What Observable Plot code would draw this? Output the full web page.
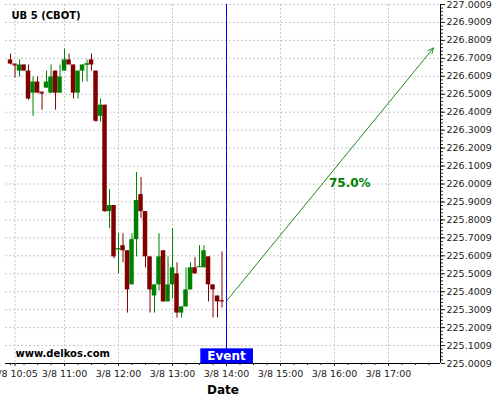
<!DOCTYPE html>
<html><head><meta charset="utf-8">
<script src="https://cdn.jsdelivr.net/npm/d3@7"></script>
<script src="https://cdn.jsdelivr.net/npm/@observablehq/plot@0.6"></script>
<style>html,body{margin:0;padding:0;background:#fff;overflow:hidden}</style>
</head><body><div id="chart"></div>
<script>
const chartTitle = "UB 5 (CBOT)";
const watermark = "www.delkos.com";
const xAxisLabel = "Date";
const candleTimes = ["10:00","10:05","10:10","10:15","10:20","10:25","10:30","10:35","10:40","10:45","10:50","10:55",
  "11:00","11:05","11:10","11:15","11:20","11:25","11:30","11:35","11:40","11:45","11:50","11:55",
  "12:00","12:05","12:10","12:15","12:20","12:25","12:30","12:35","12:40","12:45","12:50","12:55",
  "13:00","13:05","13:10","13:15","13:20","13:25","13:30","13:35","13:40","13:45","13:50","13:55"];
const opens = [226.692,226.669,226.630,226.664,226.630,226.507,226.569,226.513,226.535,226.507,226.630,226.507,
  226.630,226.692,226.664,226.507,226.630,226.664,226.692,226.630,226.378,226.440,225.847,225.881,
  225.635,225.657,225.629,225.439,225.691,225.942,225.847,225.595,225.377,225.439,225.629,225.344,
  225.439,225.500,225.282,225.316,225.411,225.534,225.537,225.534,225.595,225.439,225.377,225.352];
const highs = [226.725,226.669,226.692,226.664,226.664,226.597,226.597,226.513,226.630,226.664,226.630,226.664,
  226.753,226.725,226.664,226.630,226.664,226.692,226.725,226.630,226.474,226.440,225.970,225.881,
  225.724,225.724,225.629,225.724,226.065,226.037,225.847,225.595,225.439,225.724,225.629,225.595,
  225.752,225.562,225.316,225.534,225.562,225.590,225.657,225.657,225.595,225.439,225.377,225.623];
const lows = [226.664,226.591,226.597,226.630,226.468,226.378,226.507,226.412,226.535,226.507,226.412,226.507,
  226.630,226.664,226.474,226.474,226.569,226.569,226.630,226.345,226.345,225.842,225.752,225.584,
  225.500,225.562,225.282,225.439,225.595,225.808,225.534,225.282,225.282,225.405,225.344,225.344,
  225.361,225.254,225.254,225.316,225.411,225.500,225.537,225.534,225.344,225.254,225.254,225.310];
const closes = [226.669,226.664,226.664,226.630,226.474,226.569,226.507,226.507,226.569,226.597,226.507,226.597,
  226.692,226.664,226.507,226.630,226.664,226.669,226.664,226.350,226.440,225.847,225.881,225.595,
  225.640,225.629,225.411,225.691,225.909,225.847,225.595,225.411,225.439,225.595,225.344,225.439,
  225.534,225.282,225.316,225.411,225.534,225.500,225.540,225.629,225.439,225.411,225.344,225.349];
const yTickValues = [225.0009,225.1009,225.2009,225.3009,225.4009,225.5009,225.6009,225.7009,225.8009,225.9009,
  226.0009,226.1009,226.2009,226.3009,226.4009,226.5009,226.6009,226.7009,226.8009,226.9009,227.0009];
const xTickLabels = ["3/8 10:05","3/8 11:00","3/8 12:00","3/8 13:00","3/8 14:00","3/8 15:00","3/8 16:00","3/8 17:00"];
const eventTime = "14:00";
const eventLabel = "Event";
const forecastStartTime = "14:00", forecastStartValue = 225.349;
const forecastEndTime = "17:50", forecastEndValue = 226.759;
const forecastLabel = "75.0%", forecastLabelTime = "16:17", forecastLabelValue = 226.004;

const UP = "#008000", DOWN = "#800000";
const toMin = s => { const p = s.trim().split(" ").pop().split(":").map(Number); return p[0]*60 + p[1]; };
const candles = candleTimes.map((t,i) => ({t: toMin(t), o: opens[i], h: highs[i], l: lows[i], c: closes[i]}));
const col = d => d.c >= d.o ? UP : DOWN;
const xTickMins = xTickLabels.map(toMin);
const labelOf = new Map(xTickMins.map((m,i) => [m, xTickLabels[i]]));
const xDomain = [594.4, 1077.8];
const yDomain = [yTickValues[0], yTickValues[yTickValues.length-1]];
const yMinor = d3.range(0, 101).map(k => yDomain[0] + k*0.02);
const xMinor = d3.range(600, 1078, 15);
const forecast = [{x1: toMin(forecastStartTime), y1: forecastStartValue, x2: toMin(forecastEndTime), y2: forecastEndValue}];
const grid = {stroke: "#c8c8c8", strokeOpacity: 1, strokeDasharray: "2,2"};

const chart = Plot.plot({
  width: 500, height: 400,
  marginLeft: 5, marginRight: 60, marginTop: 4, marginBottom: 37,
  style: {fontFamily: "DejaVu Sans", fontSize: "9.5px", background: "#fff", color: "#222"},
  x: {domain: xDomain},
  y: {domain: yDomain},
  color: {type: "identity"},
  marks: [
    Plot.gridY(yTickValues, grid),
    Plot.gridX(xTickMins, grid),
    Plot.ruleX(candles, {x: "t", y1: "l", y2: "h", stroke: col, strokeWidth: 1}),
    Plot.rect(candles, {x1: d => d.t - 2.5, x2: d => d.t + 2.5, y1: "o", y2: "c", fill: col}),
    Plot.ruleY(candles, {filter: d => Math.abs(d.c - d.o) < 0.01, x1: d => d.t - 2.5, x2: d => d.t + 2.5, y: "c", stroke: col}),
    Plot.ruleX([eventTime], {x: toMin, stroke: "#0000ff", strokeWidth: 1}),
    Plot.arrow(forecast, {x1: "x1", y1: "y1", x2: "x2", y2: "y2", stroke: "#1f8f1f", strokeWidth: 1, headLength: 9, headAngle: 50}),
    Plot.text([forecastLabel], {x: () => toMin(forecastLabelTime), y: () => forecastLabelValue, text: d => d, fill: "#008000", fontWeight: "bold", fontSize: 12}),
    Plot.ruleX([xDomain[1]], {stroke: "#000"}),
    Plot.ruleY([yDomain[0]], {stroke: "#000"}),
    Plot.axisY(yTickValues, {anchor: "right", tickFormat: d3.format(".4f"), tickSize: 4, tickPadding: 2, label: null, fill: "#222"}),
    Plot.axisY(yMinor, {anchor: "right", tickFormat: () => "", tickSize: 2, label: null}),
    Plot.axisX(xTickMins, {anchor: "bottom", tickFormat: d => labelOf.get(d), tickSize: 3, tickPadding: 4, label: null, fill: "#222"}),
    Plot.axisX(xMinor, {anchor: "bottom", tickFormat: () => "", tickSize: 2, label: null}),
    Plot.text([chartTitle], {text: d => d, frameAnchor: "top-left", textAnchor: "start", lineAnchor: "middle", dx: 6, dy: 11, fontWeight: "bold", fontSize: 10, fill: "#000"}),
    Plot.text([watermark], {text: d => d, frameAnchor: "bottom-left", textAnchor: "start", lineAnchor: "middle", dx: 10, dy: -10, fontWeight: "bold", fontSize: 10, fill: "#000"}),
    Plot.text([xAxisLabel], {text: d => d, frameAnchor: "bottom", textAnchor: "middle", lineAnchor: "middle", dy: 27, fontWeight: "bold", fontSize: 12, fill: "#000"}),
    Plot.text([eventLabel], {x: () => toMin(eventTime), text: d => d, frameAnchor: "bottom", textAnchor: "middle", lineAnchor: "middle", dy: -7.5, fill: "#fff", fontWeight: "bold", fontSize: 12})
  ]
});
document.getElementById("chart").appendChild(chart);
const evText = Array.from(chart.querySelectorAll("text")).find(t => t.textContent === eventLabel);
if (evText) {
  const bb = evText.getBBox();
  const r = document.createElementNS("http://www.w3.org/2000/svg", "rect");
  const cy = bb.y + bb.height / 2;
  r.setAttribute("x", bb.x - 7); r.setAttribute("width", bb.width + 14);
  r.setAttribute("y", cy - 7.5); r.setAttribute("height", 15);
  r.setAttribute("fill", "#0000ff");
  const tr = evText.getAttribute("transform");
  if (tr) r.setAttribute("transform", tr);
  evText.parentNode.insertBefore(r, evText);
}
</script></body></html>
